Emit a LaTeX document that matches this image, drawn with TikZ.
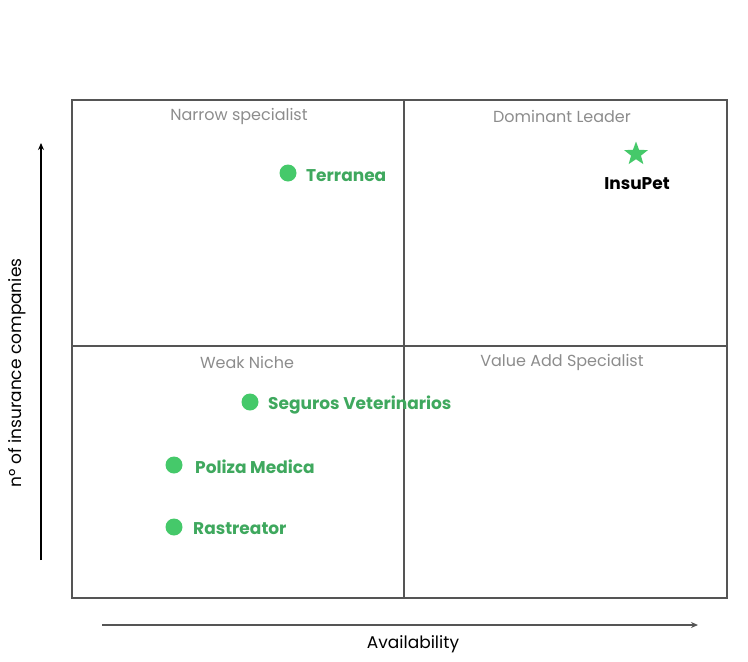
\documentclass[tikz,border=0pt]{standalone}
\usepackage{fontspec}
\setmainfont{Poppins}
\usetikzlibrary{shapes.geometric,arrows.meta}
\definecolor{dotgreen}{HTML}{45C96A}
\definecolor{txtgreen}{HTML}{3FA85E}
\definecolor{gridgray}{HTML}{555555}
\definecolor{quadgray}{HTML}{8C8C8C}
\tikzset{
  dot/.style={circle, fill=dotgreen, inner sep=0pt, minimum size=17pt},
  complabel/.style={anchor=west, inner sep=0pt, text=txtgreen, font=\fontsize{17}{19}\selectfont\bfseries},
  quadlabel/.style={text=quadgray, font=\fontsize{16}{18}\selectfont}
}
\begin{document}
\begin{tikzpicture}[x=1pt, y=-1pt]
        \useasboundingbox (0,0) rectangle (748,662);

        % Draw the frame and the quadrants
        \draw[gridgray, line width=1.8pt] (72,100) rectangle (727,598);
        \draw[gridgray, line width=1.8pt] (404,100) -- (404,598);
        \draw[gridgray, line width=1.8pt] (72,346) -- (727,346);

        % Quadrant names
        \node[quadlabel] (narrow) at (239,116) {Narrow specialist};
        \node[quadlabel] (leader) at (562,116) {Dominant Leader};
        \node[quadlabel] (weak) at (247,362) {Weak Niche};
        \node[quadlabel] (value) at (562,362) {Value Add Specialist};

        % Axes
        \coordinate (ybot) at (41,560);
        \coordinate (ytop) at (41,143);
        \coordinate (xleft) at (102,625);
        \coordinate (xright) at (698,625);
        \draw[line width=1.6pt, -{Stealth[length=7pt,width=6pt]}] (ybot) -- (ytop);
        \draw[gridgray, line width=2pt, -{Stealth[length=7pt,width=6pt]}] (xleft) -- (xright);
        \node[font=\fontsize{17}{19}\selectfont, rotate=90] (ylab) at (17,373) {nº of insurance companies};
        \node[font=\fontsize{17}{19}\selectfont] (xlab) at (413,644) {Availability};

        % Companies
        \node[dot] (terranea) at (288,173) {};
        \node[complabel] (terraneatxt) at (306,176) {Terranea};
        \node[dot] (seguros) at (250,402) {};
        \node[complabel] (segurostxt) at (268,405) {Seguros Veterinarios};
        \node[dot] (poliza) at (174,465) {};
        \node[complabel] (polizatxt) at (195,467) {Poliza Medica};
        \node[dot] (rastreator) at (174,527) {};
        \node[complabel] (rastreatortxt) at (193,529) {Rastreator};

        % InsuPet
        \node[star, star points=5, star point ratio=2.4, fill=dotgreen, inner sep=0pt, minimum size=25pt] (insupet) at (636,154) {};
        \node[font=\fontsize{17}{19}\selectfont\bfseries] (insupettxt) at (637,184) {InsuPet};

      \end{tikzpicture}
\end{document}
